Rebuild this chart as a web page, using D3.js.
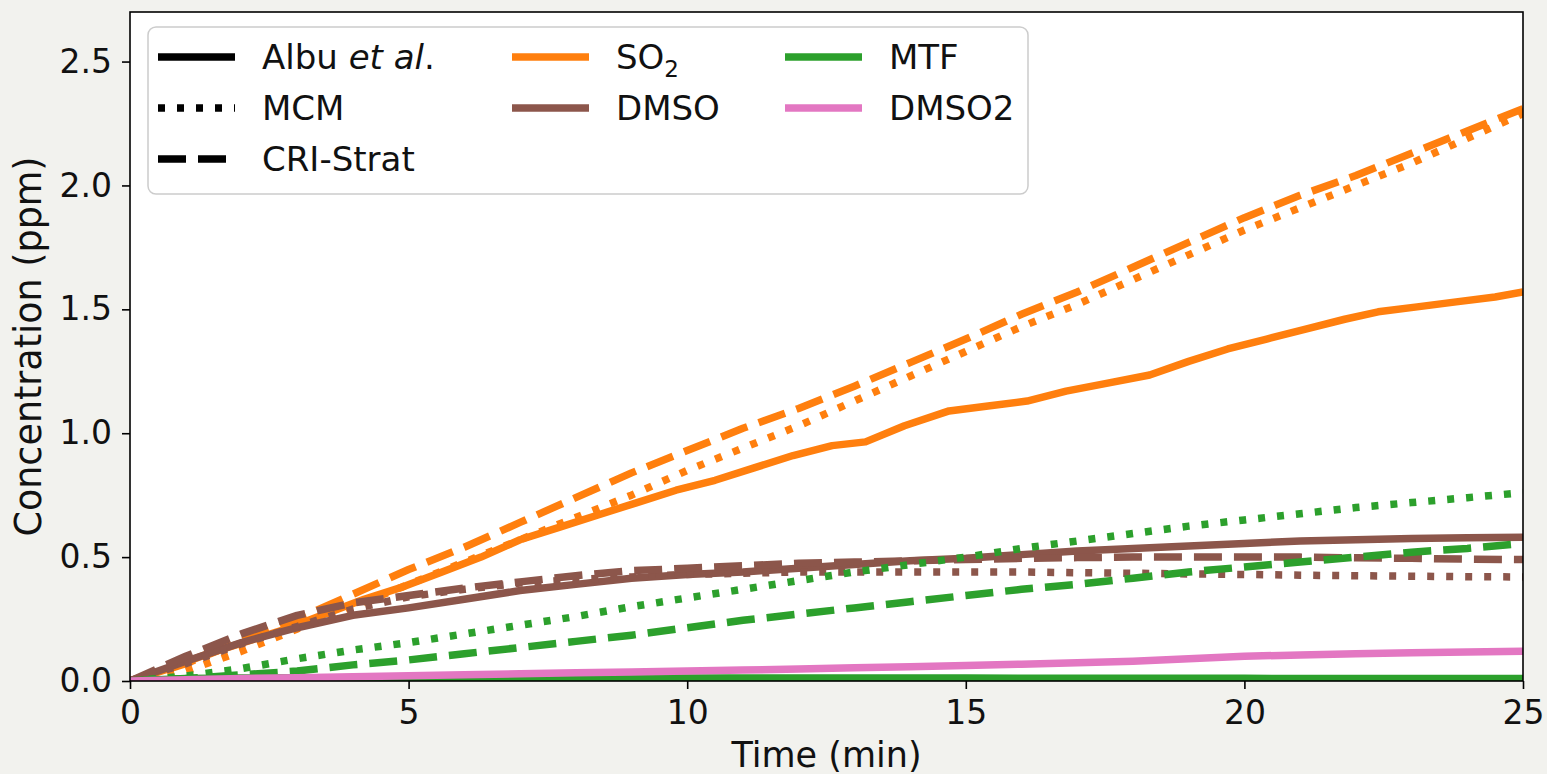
<!DOCTYPE html>
<html>
<head>
<meta charset="utf-8">
<script src="https://cdn.jsdelivr.net/npm/d3@7"></script>
<style>
    body { margin: 0; background: #f2f2ee; }
    svg { display: block; }
    text { font-family: "DejaVu Sans", sans-serif; fill: #111; }
</style>
</head>
<body>
<div id="chart"></div>
<script>
/*global d3*/

// model output times (min)
const tModel = [0, 1, 2, 3, 4, 5, 6, 7, 8, 9, 10, 11, 12, 13, 14, 15, 16, 17, 18, 19, 20, 21, 22, 23, 24, 25];

// Albu et al. SO2 is sampled irregularly
const tAlbuSO2 = [0, 0.7, 1.4, 2.1, 2.8, 3.5, 4.2, 4.9, 5.6, 6.3, 7.0, 7.7, 8.4, 9.1, 9.8, 10.5, 11.2, 11.9,
    12.6, 13.2, 13.9, 14.7, 15.4, 16.1, 16.8, 17.5, 18.3, 19.0, 19.7, 20.4, 21.1, 21.8, 22.4, 23.1, 23.8, 24.5, 25];
const so2Albu = [0, 0.05, 0.11, 0.16, 0.21, 0.27, 0.33, 0.38, 0.44, 0.5, 0.57, 0.62, 0.67, 0.72, 0.77, 0.81, 0.86, 0.91,
    0.95, 0.965, 1.03, 1.09, 1.11, 1.13, 1.17, 1.2, 1.235, 1.29, 1.34, 1.38, 1.42, 1.46, 1.49, 1.51, 1.53, 1.55, 1.57];

const so2MCM = [0, 0.04, 0.12, 0.21, 0.30, 0.39, 0.48, 0.57, 0.66, 0.75, 0.85, 0.94, 1.03, 1.13, 1.23, 1.33,
    1.43, 1.52, 1.62, 1.72, 1.82, 1.91, 2.00, 2.09, 2.19, 2.29];
const so2CRI = [0, 0.07, 0.16, 0.25, 0.35, 0.45, 0.54, 0.64, 0.74, 0.84, 0.93, 1.02, 1.10, 1.19, 1.285, 1.38,
    1.48, 1.57, 1.67, 1.77, 1.87, 1.96, 2.04, 2.13, 2.22, 2.31];

const dmsoAlbu = [0, 0.08, 0.155, 0.215, 0.265, 0.295, 0.33, 0.365, 0.39, 0.415, 0.43, 0.44, 0.455, 0.47, 0.485, 0.495,
    0.51, 0.525, 0.535, 0.545, 0.555, 0.565, 0.57, 0.575, 0.578, 0.58];
const dmsoMCM = [0, 0.07, 0.15, 0.22, 0.29, 0.34, 0.37, 0.395, 0.41, 0.42, 0.43, 0.435, 0.44, 0.44, 0.44, 0.44,
    0.44, 0.437, 0.435, 0.432, 0.43, 0.427, 0.425, 0.423, 0.421, 0.42];
const dmsoCRI = [0, 0.10, 0.19, 0.265, 0.315, 0.345, 0.375, 0.40, 0.425, 0.445, 0.455, 0.465, 0.475, 0.48, 0.485, 0.49,
    0.495, 0.498, 0.5, 0.5, 0.5, 0.5, 0.497, 0.495, 0.492, 0.49];

const mtfAlbu = [0, 0.01, 0.012, 0.013, 0.013, 0.013, 0.013, 0.013, 0.013, 0.013, 0.012, 0.012, 0.012, 0.012, 0.012, 0.012,
    0.011, 0.011, 0.011, 0.011, 0.011, 0.01, 0.01, 0.01, 0.01, 0.01];
const mtfMCM = [0, 0.02, 0.05, 0.09, 0.125, 0.155, 0.19, 0.225, 0.26, 0.3, 0.335, 0.37, 0.405, 0.44, 0.47, 0.5,
    0.535, 0.565, 0.595, 0.625, 0.65, 0.675, 0.7, 0.72, 0.74, 0.76];
const mtfCRI = [0, 0.01, 0.025, 0.04, 0.065, 0.085, 0.11, 0.135, 0.16, 0.185, 0.215, 0.245, 0.27, 0.295, 0.32, 0.345,
    0.37, 0.39, 0.415, 0.44, 0.46, 0.48, 0.5, 0.52, 0.535, 0.555];

const dmso2Albu = [0, 0.005, 0.01, 0.013, 0.017, 0.021, 0.025, 0.029, 0.033, 0.036, 0.04, 0.044, 0.048, 0.053, 0.058, 0.063,
    0.068, 0.074, 0.08, 0.09, 0.1, 0.105, 0.11, 0.114, 0.117, 0.12];
const dmso2MCM = [0, 0.002, 0.003, 0.003, 0.004, 0.004, 0.004, 0.004, 0.004, 0.004, 0.004, 0.004, 0.004, 0.004, 0.004, 0.004,
    0.004, 0.004, 0.004, 0.004, 0.004, 0.004, 0.004, 0.004, 0.004, 0.004];
const dmso2CRI = [0, 0.002, 0.004, 0.005, 0.005, 0.006, 0.006, 0.006, 0.006, 0.006, 0.006, 0.006, 0.006, 0.006, 0.006, 0.006,
    0.006, 0.006, 0.006, 0.006, 0.006, 0.006, 0.006, 0.006, 0.006, 0.006];

const species = ["SO2", "DMSO", "MTF", "DMSO2"];
const speciesColors = ["#ff7f0e", "#8c564b", "#2ca02c", "#e377c2"];
const models = ["Albu et al.", "MCM", "CRI-Strat"];

const xTicks = [0, 5, 10, 15, 20, 25];
const yTicks = [0, 0.5, 1.0, 1.5, 2.0, 2.5];

const W = 1547, H = 774;
const margin = { top: 12, right: 24, bottom: 93, left: 130 };
const iw = W - margin.left - margin.right;
const ih = H - margin.top - margin.bottom;
const LW = 7.5;
const dashes = { "Albu et al.": null, "MCM": "7,12", "CRI-Strat": "28,12" };

function zip(t, v) { return t.map((d, i) => [d, v[i]]); }

// drawing order: near-zero DMSO2 model runs go underneath everything
const series = [
    { sp: "DMSO2", model: "MCM", pts: zip(tModel, dmso2MCM) },
    { sp: "DMSO2", model: "CRI-Strat", pts: zip(tModel, dmso2CRI) },
    { sp: "SO2", model: "Albu et al.", pts: zip(tAlbuSO2, so2Albu) },
    { sp: "SO2", model: "MCM", pts: zip(tModel, so2MCM) },
    { sp: "SO2", model: "CRI-Strat", pts: zip(tModel, so2CRI) },
    { sp: "DMSO", model: "Albu et al.", pts: zip(tModel, dmsoAlbu) },
    { sp: "DMSO", model: "MCM", pts: zip(tModel, dmsoMCM) },
    { sp: "DMSO", model: "CRI-Strat", pts: zip(tModel, dmsoCRI) },
    { sp: "MTF", model: "MCM", pts: zip(tModel, mtfMCM) },
    { sp: "MTF", model: "CRI-Strat", pts: zip(tModel, mtfCRI) },
    { sp: "MTF", model: "Albu et al.", pts: zip(tModel, mtfAlbu) },
    { sp: "DMSO2", model: "Albu et al.", pts: zip(tModel, dmso2Albu) }
];

const color = d3.scaleOrdinal().domain(species).range(speciesColors);

const svg = d3.select("#chart").append("svg").attr("width", W).attr("height", H);
svg.append("rect").attr("width", W).attr("height", H).attr("fill", "#f2f2ee");

const g = svg.append("g").attr("transform", `translate(${margin.left},${margin.top})`);

const x = d3.scaleLinear().domain([0, 25]).range([0, iw]);
const y = d3.scaleLinear().domain([0, 2.7]).range([ih, 0]);

g.append("rect").attr("width", iw).attr("height", ih).attr("fill", "#fff");

g.append("clipPath").attr("id", "clip")
    .append("rect").attr("width", iw).attr("height", ih);

const line = d3.line().x(d => x(d[0])).y(d => y(d[1]));

g.append("g").attr("clip-path", "url(#clip)")
    .selectAll("path")
    .data(series)
    .join("path")
    .attr("d", d => line(d.pts))
    .attr("fill", "none")
    .attr("stroke", d => color(d.sp))
    .attr("stroke-width", LW)
    .attr("stroke-dasharray", d => dashes[d.model])
    .attr("stroke-linejoin", "round");

// axes
const xAxis = g.append("g").attr("transform", `translate(0,${ih})`)
    .call(d3.axisBottom(x).tickValues(xTicks).tickSize(8).tickPadding(12).tickFormat(d3.format("d")));
const yAxis = g.append("g")
    .call(d3.axisLeft(y).tickValues(yTicks).tickSize(8).tickPadding(10).tickFormat(d3.format(".1f")));

[xAxis, yAxis].forEach(a => {
    a.select(".domain").remove();
    a.selectAll("line").attr("stroke", "#000").attr("stroke-width", 1.6);
    a.selectAll("text").attr("font-size", 33).attr("font-family", "DejaVu Sans").attr("fill", "#111");
});

g.append("rect").attr("width", iw).attr("height", ih)
    .attr("fill", "none").attr("stroke", "#000").attr("stroke-width", 1.6);

svg.append("text")
    .attr("x", margin.left + iw / 2).attr("y", 767)
    .attr("text-anchor", "middle").attr("font-size", 35)
    .text("Time (min)");

svg.append("text")
    .attr("transform", `translate(41,${margin.top + ih / 2}) rotate(-90)`)
    .attr("text-anchor", "middle").attr("font-size", 36.5)
    .text("Concentration (ppm)");

// legend
const lg = svg.append("g");
lg.append("rect")
    .attr("x", 148).attr("y", 27).attr("width", 880).attr("height", 167).attr("rx", 8)
    .attr("fill", "#fff").attr("fill-opacity", 0.8).attr("stroke", "#ccc").attr("stroke-width", 1.5);

const rowY = [57, 108, 159];
const legendItems = [
    { col: 0, row: 0, stroke: "#000", dash: dashes[models[0]], label: "albu" },
    { col: 0, row: 1, stroke: "#000", dash: dashes[models[1]], label: models[1] },
    { col: 0, row: 2, stroke: "#000", dash: dashes[models[2]], label: models[2] },
    { col: 1, row: 0, stroke: color(species[0]), dash: null, label: "so2" },
    { col: 1, row: 1, stroke: color(species[1]), dash: null, label: species[1] },
    { col: 2, row: 0, stroke: color(species[2]), dash: null, label: species[2] },
    { col: 2, row: 1, stroke: color(species[3]), dash: null, label: species[3] }
];
const colX = [158, 512, 785];

legendItems.forEach(it => {
    const x0 = colX[it.col], yy = rowY[it.row];
    lg.append("line")
        .attr("x1", x0).attr("x2", x0 + 77).attr("y1", yy).attr("y2", yy)
        .attr("stroke", it.stroke).attr("stroke-width", LW)
        .attr("stroke-dasharray", it.dash);
    const t = lg.append("text").attr("x", x0 + 104).attr("y", yy + 12).attr("font-size", 34);
    if (it.label === "albu") {
        t.append("tspan").text("Albu ");
        t.append("tspan").attr("font-style", "italic").text("et al");
        t.append("tspan").text(".");
    } else if (it.label === "so2") {
        t.append("tspan").text("SO");
        t.append("tspan").attr("font-size", 23).attr("dy", 8).text("2");
    } else {
        t.text(it.label);
    }
});
</script>
</body>
</html>
